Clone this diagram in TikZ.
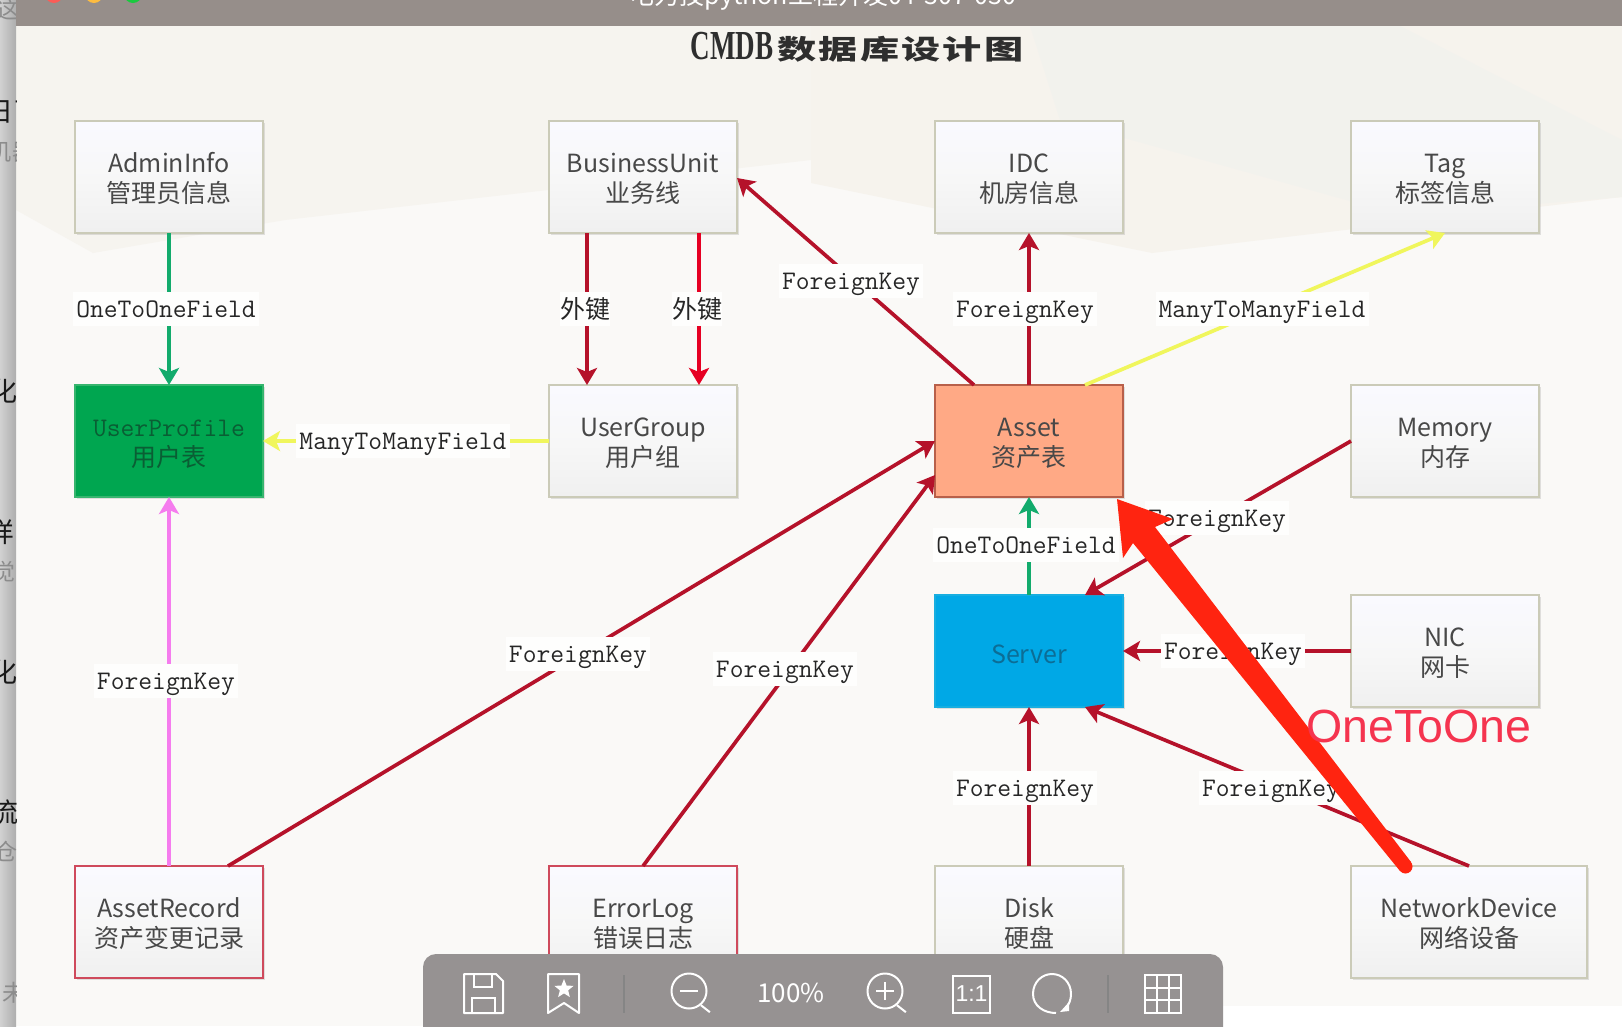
\documentclass[tikz,border=0pt]{standalone}
\usepackage{fontspec}
\setmainfont{Noto Sans CJK SC}
\newfontfamily\arialish{Liberation Sans}
\newfontfamily\timesish{Liberation Serif}
\usetikzlibrary{arrows.meta,shadows,shapes.geometric,calc}
\definecolor{page}{HTML}{FAF9F7}
\definecolor{bgA}{HTML}{F6F4EF}
\definecolor{bgB}{HTML}{F6F3ED}
\definecolor{bgC}{HTML}{F2F2ED}
\definecolor{bar}{HTML}{968E8A}
\definecolor{tool}{HTML}{969292}
\definecolor{boxline}{HTML}{CBCBB8}
\definecolor{redbox}{HTML}{CF4A5C}
\definecolor{dred}{HTML}{B5122A}
\definecolor{bred}{HTML}{E60023}
\definecolor{fkgreen}{HTML}{12AB6C}
\definecolor{fkyellow}{HTML}{F0F65C}
\definecolor{fkpink}{HTML}{F57CEE}
\definecolor{annot}{HTML}{FF2410}
\definecolor{annottext}{HTML}{F5344F}
\definecolor{boxtext}{HTML}{484848}
\definecolor{tlred}{HTML}{FC5C57}
\definecolor{tlorange}{HTML}{FDBC40}
\definecolor{tlgreen}{HTML}{1AC93F}
\definecolor{pgreen}{HTML}{00A650}
\definecolor{pgreenline}{HTML}{36B56E}
\definecolor{pgreentext}{HTML}{0A5E34}
\definecolor{assetfill}{HTML}{FFA985}
\definecolor{assetline}{HTML}{B8604A}
\definecolor{srvfill}{HTML}{00A8E6}
\definecolor{srvline}{HTML}{17AEE0}
\definecolor{srvtext}{HTML}{0C6D96}
\newcommand{\firstline}{\rule{0pt}{23pt}}
\tikzset{
  x=1pt,y=-1pt,
  tbox/.style={draw=boxline,line width=2pt,top color=white!98!blue,bottom color=black!6,middle color=white!97!black,
    minimum width=188pt,minimum height=112pt,inner sep=0pt,outer sep=0pt,align=center,text=boxtext,
    font=\fontsize{25}{30}\selectfont,drop shadow={opacity=.22,shadow xshift=2pt,shadow yshift=-2pt}},
  redtbox/.style={tbox,draw=redbox},
  lab/.style={fill=white!80!page,inner xsep=3pt,inner ysep=0pt,minimum height=34pt,text=black!85,
    text height=16.4pt,text depth=0pt,font=\ttfamily\fontsize{26.8}{28}\selectfont},
  labcjk/.style={lab,font=\fontsize{25}{26}\selectfont,inner xsep=0pt,text height=21pt,text depth=2pt},
  conn/.style={line width=3.7pt,-{Stealth[length=17pt,width=20pt,inset=4pt]}},
  link/.style={conn,dred},
  tic/.style={draw=white,line width=2pt,fill=none},
  frag/.style={inner sep=0pt,font=\fontsize{27}{27}\selectfont,text=black!90},
  fragg/.style={inner sep=0pt,font=\fontsize{23}{23}\selectfont,text=black!45},
}
\begin{document}
\begin{tikzpicture}
\useasboundingbox (0,0) rectangle (1622,1026);
% page background
\fill[page] (0,0) rectangle (1622,1026);
\fill[bgA] (16,26) -- (860,26) -- (811,160) -- (285,220) -- (93,253) -- (16,210) -- cycle;
\fill[bgB] (811,26) -- (1622,26) -- (1622,197) -- (1152,253) -- (811,183) -- cycle;
\fill[bgC] (1030,26) -- (1400,26) -- (1622,140) -- (1622,197) -- (1400,215) -- (1060,120) -- cycle;
\fill[white] (1223,1006) rectangle (1622,1026);
% left strip
\shade[left color=black!18,right color=black!32] (0,0) rectangle (16,1026);
\begin{scope}
\clip (0,0) rectangle (16,1026);
\node[frag]  (s1) at (0,112) {日};
\node[frag]  (s1b) at (27,112) {了};
\node[fragg] (s2) at (0,152) {机};
\node[fragg] (s2b) at (24,152) {器};
\node[fragg] (s0) at (8,10) {这};
\node[frag]  (s3) at (4,391) {化};
\node[frag]  (s4) at (1,532) {样};
\node[fragg] (s5) at (4,572) {觉};
\node[frag]  (s6) at (4,672) {化};
\node[frag]  (s7) at (5,812) {流};
\node[fragg] (s8) at (6,851) {仓};
\node[fragg] (s9) at (14,993) {未};
\end{scope}
% title bar
\fill[bar] (16,0) rectangle (1622,26);
\fill[tlred] (54,-6) circle (9);
\fill[tlorange] (94,-6) circle (9);
\fill[tlgreen] (133,-6) circle (9);
\node[anchor=base,inner sep=0pt,text=white,font=\fontsize{25}{25}\selectfont] (wintitle) at (823,4) {电力技python工程开发04-307-030};
\node[inner sep=0pt,text=black!82] (title) at (857,47) {\scalebox{.82}[1.25]{\timesish\bfseries\fontsize{33}{33}\selectfont CMDB}\hspace{4pt}\scalebox{1.45}[1]{\bfseries\fontsize{27}{27}\selectfont 数\hspace{1.5pt}据\hspace{1.5pt}库\hspace{1.5pt}设\hspace{1.5pt}计\hspace{1.5pt}图}};
% boxes
\node[tbox] (admin) at (169,177) {\firstline AdminInfo\\管理员信息};
\node[tbox] (bu) at (643,177) {\firstline BusinessUnit\\业务线};
\node[tbox] (idc) at (1029,177) {\firstline IDC\\机房信息};
\node[tbox] (tag) at (1445,177) {\firstline Tag\\标签信息};
\node[tbox,draw=pgreenline,top color=pgreen,bottom color=pgreen,middle color=pgreen,text=pgreentext] (profile) at (169,441) {\firstline{\ttfamily\fontsize{26.8}{30}\selectfont UserProfile}\\用户表};
\node[tbox] (ug) at (643,441) {\firstline UserGroup\\用户组};
\node[tbox,draw=assetline,top color=assetfill,bottom color=assetfill,middle color=assetfill] (asset) at (1029,441) {\firstline Asset\\资产表};
\node[tbox] (memory) at (1445,441) {\firstline Memory\\内存};
\node[tbox,draw=srvline,top color=srvfill,bottom color=srvfill,middle color=srvfill,text=srvtext] (server) at (1029,651) {\rule{0pt}{25pt}Server};
\node[tbox] (nic) at (1445,651) {\firstline NIC\\网卡};
\node[redtbox] (record) at (169,922) {\firstline AssetRecord\\资产变更记录};
\node[redtbox] (errlog) at (643,922) {\firstline ErrorLog\\错误日志};
\node[tbox] (disk) at (1029,922) {\firstline Disk\\硬盘};
\node[tbox,minimum width=236pt] (netdev) at (1469,922) {\firstline NetworkDevice\\网络设备};
% connectors
\draw[conn,fkgreen] (admin.south) -- (profile.north);
\draw[link] ([xshift=-56pt]bu.south) -- ([xshift=-56pt]ug.north);
\draw[conn,bred] ([xshift=56pt]bu.south) -- ([xshift=56pt]ug.north);
\draw[link] ([xshift=-55pt]asset.north) -- ([yshift=-1pt]bu.east);
\draw[link] (asset.north) -- (idc.south);
\draw[conn,fkyellow] ([xshift=56pt]asset.north) -- (tag.south);
\draw[conn,fkyellow] (ug.west) -- (profile.east);
\draw[conn,fkpink] (record.north) -- (profile.south);
\draw[link] ([xshift=59pt]record.north) -- (asset.west);
\draw[link] (errlog.north) -- ([yshift=-34pt]asset.west);
\draw[conn,fkgreen] (server.north) -- (asset.south);
\draw[link] (memory.west) -- ([xshift=56pt]server.north);
\draw[link] (nic.west) -- (server.east);
\draw[link] (disk.north) -- (server.south);
\draw[link] (netdev.north) -- ([xshift=56pt]server.south);
% connector labels
\node[lab] (l1) at (166,309) {OneToOneField};
\node[labcjk] (l2) at (585,309) {外键};
\node[labcjk] (l3) at (697,309) {外键};
\node[lab] (l4) at (851,281) {ForeignKey};
\node[lab] (l5) at (1025,309) {ForeignKey};
\node[lab] (l6) at (1262,309) {ManyToManyField};
\node[lab] (l7) at (403,441) {ManyToManyField};
\node[lab] (l8) at (166,681) {ForeignKey};
\node[lab] (l9) at (578,654) {ForeignKey};
\node[lab] (l10) at (785,669) {ForeignKey};
\node[lab] (l11) at (1026,545) {OneToOneField};
\node[lab] (l12) at (1217,518) {ForeignKey};
\node[lab] (l13) at (1233,651) {ForeignKey};
\node[lab] (l14) at (1025,788) {ForeignKey};
\node[lab] (l15) at (1271,788) {ForeignKey};
% toolbar
\fill[tool,rounded corners=13pt] (423,954) rectangle (1223,1060);
\draw[tic,line join=round] (464,974) -- (496,974) -- (503,981) -- (503,1013) -- (464,1013) -- cycle;
\draw[tic] (474,974) -- (474,987) -- (492,987) -- (492,974);
\draw[tic] (472,1013) -- (472,998) -- (495,998) -- (495,1013);
\draw[tic,line join=round] (548,974) -- (579,974) -- (579,1013) -- (564,1003) -- (548,1013) -- cycle;
\node[star,star points=5,star point ratio=2.3,fill=white,minimum size=20pt,inner sep=0pt] (stariconn) at (564,989) {};
\draw[black!48,line width=1.5pt] (624,975) -- (624,1013);
\draw[black!48,line width=1.5pt] (1108,975) -- (1108,1013);
\node[circle,draw=white,line width=2pt,minimum size=35pt,inner sep=0pt] (zoomout) at (689,991) {};
\draw[tic] (zoomout.-50) -- ++(9,7);
\draw[tic] (680,991) -- (698,991);
\node[inner sep=0pt,text=white,font=\fontsize{26}{26}\selectfont] (pct) at (791,993) {100\%};
\node[circle,draw=white,line width=2pt,minimum size=35pt,inner sep=0pt] (zoomin) at (885,991) {};
\draw[tic] (zoomin.-50) -- ++(9,7);
\draw[tic] (876,991) -- (894,991) (885,982) -- (885,1000);
\node[draw=white,line width=2pt,minimum width=37pt,minimum height=37pt,inner sep=0pt,text=white,font=\arialish\fontsize{23}{23}\selectfont] (oneone) at (971.5,994) {1:1};
\draw[tic] (1056,1013) .. controls (1044,1013) and (1033,1006) .. (1033,994) .. controls (1033,982) and (1042,974) .. (1052,974) .. controls (1062,974) and (1071,982) .. (1071,994) .. controls (1071,1000) and (1069,1004) .. (1066,1008);
\fill[white] (1060,1012) -- (1069,1002) -- (1069,1011) -- cycle;
\draw[tic] (1145,975) rectangle (1181,1013);
\draw[tic] (1157,975) -- (1157,1013) (1169,975) -- (1169,1013) (1145,988) -- (1181,988) (1145,1000) -- (1181,1000);
% annotation arrow
\fill[annot] (1117,499) -- (1173,519) -- (1155,527) -- (1411,862) -- (1400,871) -- (1133,543) -- (1123,558) -- cycle;
\fill[annot] (1405.5,866.5) circle (7);
\node[inner sep=0pt,text=annottext,font=\arialish\fontsize{46.5}{48}\selectfont] (onetoone) at (1419,726) {OneToOne};
\end{tikzpicture}
\end{document}
